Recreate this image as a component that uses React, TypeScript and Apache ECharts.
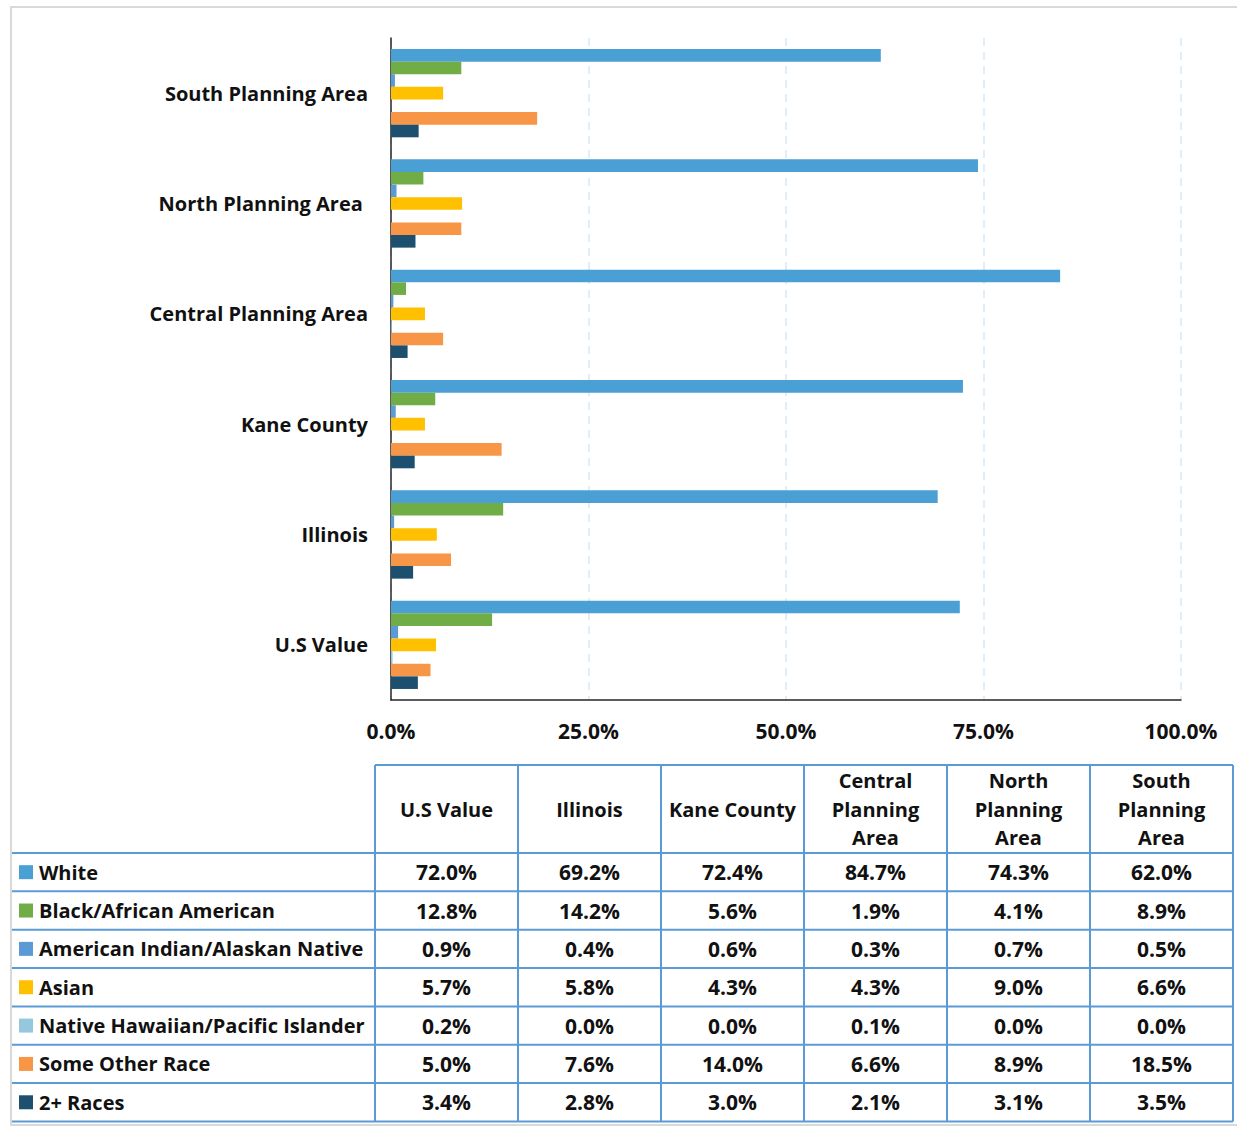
import React, { useEffect, useRef } from "react";
import * as echarts from "echarts";

// categories bottom-to-top on the chart axis
const categories = [
  "U.S Value",
  "Illinois",
  "Kane County",
  "Central Planning Area",
  "North Planning Area ",
  "South Planning Area",
];
const seriesNames = [
  "White",
  "Black/African American",
  "American Indian/Alaskan Native",
  "Asian",
  "Native Hawaiian/Pacific Islander",
  "Some Other Race",
  "2+ Races",
];
const seriesColors = ["#4a9fd5", "#70ad47", "#5b9bd5", "#ffc000", "#95c8dc", "#f79646", "#1d4f6f"];

// values in category order: U.S, Illinois, Kane, Central, North, South
const white = [72.0, 69.2, 72.4, 84.7, 74.3, 62.0];
const black = [12.8, 14.2, 5.6, 1.9, 4.1, 8.9];
const aian = [0.9, 0.4, 0.6, 0.3, 0.7, 0.5];
const asian = [5.7, 5.8, 4.3, 4.3, 9.0, 6.6];
const nhpi = [0.2, 0.0, 0.0, 0.1, 0.0, 0.0];
const other = [5.0, 7.6, 14.0, 6.6, 8.9, 18.5];
const multi = [3.4, 2.8, 3.0, 2.1, 3.1, 3.5];
const seriesValues = [white, black, aian, asian, nhpi, other, multi];

const tableHeaders = [
  "U.S Value",
  "Illinois",
  "Kane County",
  "Central\nPlanning\nArea",
  "North\nPlanning\nArea",
  "South\nPlanning\nArea",
];
const xTicks = { min: 0, max: 100, interval: 25 };

const FONT = "'Open Sans'";
const FS = 20;
const FSN = 21;
const BORDER = "#5b9bd5";

function buildTable(): any[] {
  const els: any[] = [];
  const colX0 = 375;
  const colW = 143;
  const headerTop = 765;
  const rowTop0 = 853;
  const rowH = 38.35;
  const nRows = seriesNames.length;
  const tableBottom = rowTop0 + rowH * nRows;
  const right = colX0 + colW * tableHeaders.length;

  // frame
  els.push({
    type: "rect",
    silent: true,
    shape: { x: 11, y: 7, width: 1240, height: 1118 },
    style: { fill: "none", stroke: "#d9d9d9", lineWidth: 2 },
  });

  els.push({
    type: "line",
    silent: true,
    shape: { x1: colX0, y1: headerTop, x2: right, y2: headerTop },
    style: { stroke: BORDER, lineWidth: 2 },
  });
  for (let i = 0; i <= nRows; i++) {
    const y = rowTop0 + rowH * i;
    els.push({
      type: "line",
      silent: true,
      shape: { x1: 12, y1: y, x2: right, y2: y },
      style: { stroke: BORDER, lineWidth: 2 },
    });
  }
  for (let k = 0; k <= tableHeaders.length; k++) {
    const x = colX0 + colW * k;
    els.push({
      type: "line",
      silent: true,
      shape: { x1: x, y1: headerTop, x2: x, y2: tableBottom },
      style: { stroke: BORDER, lineWidth: 2 },
    });
  }
  tableHeaders.forEach((h, k) => {
    els.push({
      type: "text",
      silent: true,
      style: {
        text: h,
        x: colX0 + colW * k + colW / 2,
        y: (headerTop + rowTop0) / 2,
        align: "center",
        verticalAlign: "middle",
        textAlign: "center",
        textVerticalAlign: "middle",
        lineHeight: 28.5,
        font: `bold ${FS}px ${FONT}`,
        fill: "#111",
      },
    });
  });
  seriesNames.forEach((name, i) => {
    const yc = rowTop0 + rowH * i + rowH / 2;
    els.push({
      type: "rect",
      silent: true,
      shape: { x: 19, y: yc - 7, width: 14, height: 14 },
      style: { fill: seriesColors[i] },
    });
    els.push({
      type: "text",
      silent: true,
      style: {
        text: name,
        x: 39,
        y: yc,
        align: "left",
        verticalAlign: "middle",
        textAlign: "left",
        textVerticalAlign: "middle",
        font: `bold ${FS}px ${FONT}`,
        fill: "#111",
      },
    });
    seriesValues[i].forEach((v, k) => {
      els.push({
        type: "text",
        silent: true,
        style: {
          text: v.toFixed(1) + "%",
          x: colX0 + colW * k + colW / 2,
          y: yc,
          align: "center",
          verticalAlign: "middle",
          textAlign: "center",
          textVerticalAlign: "middle",
          font: `bold ${FSN}px ${FONT}`,
          fill: "#111",
        },
      });
    });
  });
  return els;
}

export default function App() {
  const ref = useRef<HTMLDivElement>(null);
  useEffect(() => {
    document.body.style.margin = "0";
    if (!ref.current) return;
    const chart = echarts.init(ref.current, undefined, { renderer: "svg" });
    chart.setOption({
      animation: false,
      backgroundColor: "#ffffff",
      textStyle: { fontFamily: FONT },
      grid: { left: 391, right: 56, top: 38, height: 662, containLabel: false },
      xAxis: {
        type: "value",
        min: xTicks.min,
        max: xTicks.max,
        interval: xTicks.interval,
        axisLine: { show: true, lineStyle: { color: "#262626", width: 1.5 } },
        axisTick: { show: false },
        splitLine: {
          show: true,
          lineStyle: { color: "#e1edf7", width: 2, type: [8, 6] },
        },
        axisLabel: {
          formatter: (v: number) => v.toFixed(1) + "%",
          fontSize: FSN,
          fontWeight: "bold",
          fontFamily: FONT,
          color: "#111",
          margin: 20,
        },
      },
      yAxis: {
        type: "category",
        data: categories,
        axisLine: { show: true, lineStyle: { color: "#262626", width: 1.5 } },
        axisTick: { show: false },
        axisLabel: {
          fontSize: FS,
          fontWeight: "bold",
          fontFamily: FONT,
          color: "#111",
          margin: 23,
        },
      },
      series: seriesNames.map((name, i) => ({
        name,
        type: "bar",
        data: seriesValues[i],
        itemStyle: { color: seriesColors[i] },
        barGap: "0%",
        barCategoryGap: "20%",
      })),
      graphic: buildTable(),
    });
    return () => chart.dispose();
  }, []);
  return <div ref={ref} style={{ width: 1237, height: 1127 }} />;
}
